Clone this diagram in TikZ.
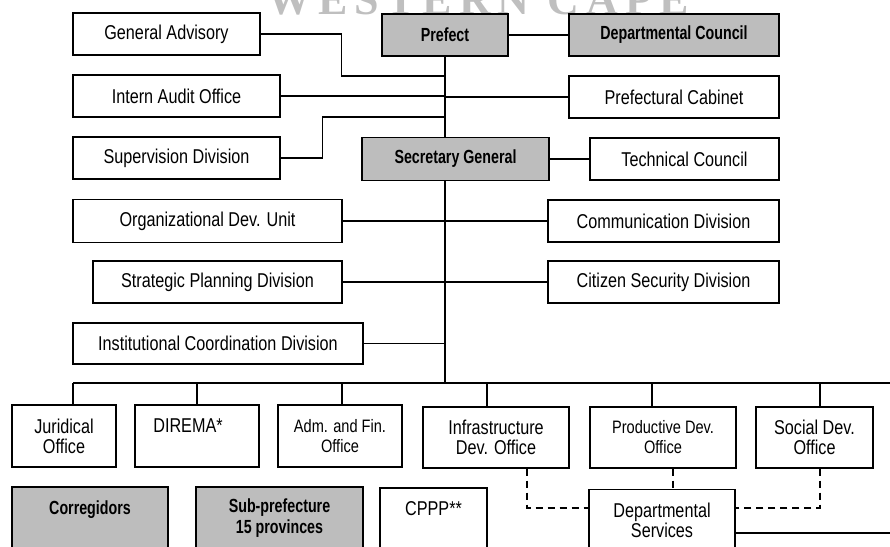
\documentclass[tikz,border=0pt]{standalone}
\usepackage{fontspec}
\setmainfont{Liberation Sans}
\newfontfamily\cfont[FakeStretch=0.81]{Liberation Sans}
\newfontfamily\gfont[FakeStretch=0.75]{Liberation Sans}
\newfontfamily\wmfont[LetterSpace=16]{Liberation Serif}
\begin{document}
\begin{tikzpicture}[x=1pt,y=-1pt,
  box/.style={draw,line width=1.3pt,rectangle,inner sep=0pt,align=center,fill=white,
    font=\cfont\fontsize{20}{20}\selectfont},
  sbox/.style={box,font=\cfont\fontsize{18}{20}\selectfont},
  gbox/.style={box,fill=gray!52,line width=1.9pt,font=\gfont\fontsize{19}{21}\selectfont\bfseries},
  con/.style={line width=1.2pt},
  dsh/.style={line width=1.2pt,dash pattern=on 7pt off 5pt},
  wm/.style={text=gray!50,font=\wmfont\fontsize{44}{44}\selectfont\bfseries,anchor=base,inner sep=0pt}]
\useasboundingbox (0,0) rectangle (890,546);
\clip (0,0) rectangle (890,546);
\node[wm] (wmark) at (478,14) {WESTERN CAPE};
% top/side boxes
\node[box,minimum width=187,minimum height=42] (ga) at (166.5,34) {General Advisory};
\node[box,minimum width=207,minimum height=42] (ia) at (176.5,96) {Intern Audit Office};
\node[box,minimum width=207,minimum height=42] (sd) at (176.5,158) {Supervision Division};
\node[gbox,minimum width=126,minimum height=42] (pf) at (445,35) {Prefect};
\node[gbox,minimum width=210,minimum height=42] (dc) at (674,35) {Departmental Council};
\node[box,minimum width=210,minimum height=42] (pc) at (674,97) {Prefectural Cabinet};
\node[gbox,minimum width=187,minimum height=43] (sg) at (455.5,159) {Secretary General};
\node[box,minimum width=189,minimum height=42] (tc) at (684.5,159) {Technical Council};
\node[box,minimum width=269,minimum height=43] (odu) at (207.5,221) {Organizational Dev. Unit};
\node[box,minimum width=231,minimum height=42] (cd) at (663.5,221) {Communication Division};
\node[box,minimum width=249,minimum height=42] (spd) at (217.5,282) {Strategic Planning Division};
\node[box,minimum width=231,minimum height=42] (csd) at (663.5,282) {Citizen Security Division};
\node[box,minimum width=290,minimum height=41] (icd) at (218,343.5) {Institutional Coordination Division};
% bottom row
\node[box,minimum width=104,minimum height=62] (jo) at (64,436) {Juridical\\Office};
\node[box,minimum width=124,minimum height=62] (dr) at (197,436) {DIREMA*\hspace*{18pt}\\\phantom{X}};
\node[sbox,minimum width=124,minimum height=62] (afo) at (340,436) {Adm. and Fin.\\Office};
\node[box,minimum width=146,minimum height=61] (ido) at (496,437.5) {Infrastructure\\Dev. Office};
\node[sbox,minimum width=146,minimum height=61] (pdo) at (663,437.5) {Productive Dev.\\Office};
\node[box,minimum width=117,minimum height=61] (sdo) at (814.5,437.5) {Social Dev.\\Office};
% third row
\node[gbox,minimum width=156,minimum height=62] (cor) at (90,518) {Corregidors\\\phantom{X}};
\node[gbox,minimum width=167,minimum height=62] (sub) at (279.5,518) {Sub-prefecture\\15 provinces};
\node[box,minimum width=107,minimum height=61] (cppp) at (433.5,518.5) {CPPP**\\\phantom{X}};
\node[box,minimum width=146,minimum height=61] (ds) at (662,520) {Departmental\\Services};
% coordinates
\coordinate (sp1) at (445,76);
\coordinate (sp2) at (445,117);
\coordinate (busC) at (445,383);
\coordinate (busL) at (73,383);
\coordinate (busR) at (890,383);
\coordinate (bD) at (197,383);
\coordinate (bA) at (342,383);
\coordinate (bI) at (487,383);
\coordinate (bP) at (652,383);
\coordinate (bS) at (820,383);
\coordinate (rEnd) at (890,533);
% connectors
\draw[con] (pf.south) -- (pf.south |- sg.north);
\draw[con] (pf.south |- sg.south) -- (busC);
\draw[con] (pf.east) -- (dc.west);
\draw[con] (ga.east) -- ++(81,0) |- (sp1);
\draw[con] (ia.east) -- (ia.east -| busC);
\draw[con] (pc.west) -- (pc.west -| busC);
\draw[con] (sd.east) -- ++(42,0) |- (sp2);
\draw[con] (sg.east) -- (tc.west);
\draw[con] (odu.east) -- (cd.west);
\draw[con] (spd.east) -- (csd.west);
\draw[con] (icd.east) -- (icd.east -| busC);
\draw[con] (busL) -- (busR);
\draw[con] (busL) -- (busL |- jo.north);
\draw[con] (bD) -- (bD |- dr.north);
\draw[con] (bA) -- (bA |- afo.north);
\draw[con] (bI) -- (bI |- ido.north);
\draw[con] (bP) -- (bP |- pdo.north);
\draw[con] (bS) -- (bS |- sdo.north);
\draw[dsh] ([xshift=10pt]pdo.south) -- ([xshift=10pt]pdo.south |- ds.north);
\draw[dsh] ([xshift=31pt]ido.south) |- ([yshift=12pt]ds.west);
\draw[dsh] ([xshift=5.5pt]sdo.south) |- ([yshift=12pt]ds.east);
\draw[con] ([yshift=-13pt]ds.east) -- (rEnd);
\end{tikzpicture}
\end{document}
